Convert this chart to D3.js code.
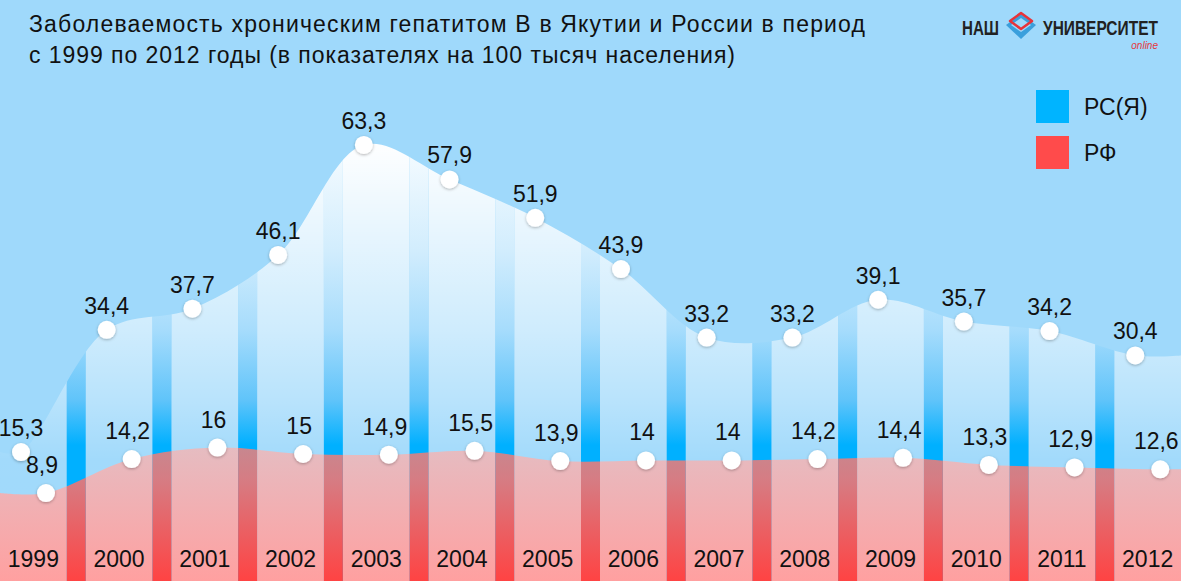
<!DOCTYPE html>
<html>
<head>
<meta charset="utf-8">
<script src="https://cdn.jsdelivr.net/npm/d3@7"></script>
<style>
  html, body { margin: 0; padding: 0; background: #9fd9fb; }
  svg { display: block; }
  text { font-family: "Liberation Sans", Arial, Helvetica, sans-serif; fill: #111; }
</style>
</head>
<body>
<div id="chart"></div>
<script>
var years = ["1999", "2000", "2001", "2002", "2003", "2004", "2005", "2006", "2007", "2008", "2009", "2010", "2011", "2012"]
var rsYa = [15.3, 34.4, 37.7, 46.1, 63.3, 57.9, 51.9, 43.9, 33.2, 33.2, 39.1, 35.7, 34.2, 30.4]
var rf = [8.9, 14.2, 16, 15, 14.9, 15.5, 13.9, 14, 14, 14.2, 14.4, 13.3, 12.9, 12.6]
var seriesNames = ["РС(Я)", "РФ"]
var titleLines = [
    "Заболеваемость хроническим гепатитом В в Якутии и России в период",
    "с 1999 по 2012 годы (в показателях на 100 тысяч населения)"
]
var titleWidths = [836, 706]

function drawChart(container) {
    const width = 1181
    const height = 581

    var svg = d3
        .select(container)
        .append("svg")
            .attr("width", width)
            .attr("height", height)

    var defs = svg.append("defs")

    // vertical gradients, in page coordinates
    function gradient(id, stops) {
        var g = defs.append("linearGradient")
            .attr("id", id)
            .attr("gradientUnits", "userSpaceOnUse")
            .attr("x1", 0).attr("x2", 0)
            .attr("y1", 0).attr("y2", height)
        stops.forEach(function(s) {
            g.append("stop")
                .attr("offset", s[0] / height)
                .attr("stop-color", s[1])
                .attr("stop-opacity", s[2] == null ? 1 : s[2])
        })
    }
    gradient("colBlue", [[150, "#ffffff", 0.97], [330, "#ffffff", 0.5], [400, "#ffffff", 0.27], [460, "#ffffff", 0.03], [581, "#ffffff", 0]])
    gradient("stripeBlue", [[150, "#f4fbff"], [250, "#d2edfd"], [330, "#a6dcfc"], [400, "#60c4fa"], [445, "#00b0ff"], [581, "#00b0ff"]])
    gradient("colPink", [[440, "#e4bec3"], [480, "#ecb5b9"], [581, "#ffa0a0"]])
    gradient("stripePink", [[440, "#c48a92"], [480, "#d67c83"], [581, "#ff4343"]])

    var shadow = defs.append("filter")
        .attr("id", "shadow")
        .attr("x", "-50%").attr("y", "-50%")
        .attr("width", "200%").attr("height", "200%")
    shadow.append("feDropShadow")
        .attr("dx", 0).attr("dy", 1)
        .attr("stdDeviation", 1.5)
        .attr("flood-color", "#000")
        .attr("flood-opacity", 0.3)

    svg.append("rect")
        .attr("width", width)
        .attr("height", height)
        .attr("fill", "#9fd9fb")

    var x = d3.scaleBand()
        .domain(years)
        .range([0, 1181])
        .paddingInner(19 / 85.7)
        .paddingOuter(0)

    var y = d3.scaleLinear()
        .domain([0, 70])
        .range([550, 102])

    // clip paths: year columns and the stripes between them
    var colClip = defs.append("clipPath").attr("id", "cols")
    colClip.selectAll("rect")
        .data(years)
        .join("rect")
            .attr("x", function(d) { return x(d) })
            .attr("y", 0)
            .attr("width", x.bandwidth())
            .attr("height", height)

    var stripeClip = defs.append("clipPath").attr("id", "stripes")
    stripeClip.selectAll("rect")
        .data(years)
        .join("rect")
            .attr("x", function(d) { return x(d) + x.bandwidth() })
            .attr("y", 0)
            .attr("width", x.step() - x.bandwidth())
            .attr("height", height)

    var blueDx = 21
    var redDx = 46

    var bluePts = years.map(function(d, i) { return { x: x(d) + blueDx, v: rsYa[i] } })
    var redPts = years.map(function(d, i) { return { x: x(d) + redDx, v: rf[i] } })

    function extend(pts) {
        return [{ x: 0, v: pts[0].v }].concat(pts, [{ x: width, v: pts[pts.length - 1].v }])
    }

    var area = d3.area()
        .x(function(d) { return d.x })
        .y0(height)
        .y1(function(d) { return y(d.v) })
        .curve(d3.curveCatmullRom.alpha(0.5))

    var layers = [
        { pts: bluePts, clip: "cols", fill: "colBlue" },
        { pts: bluePts, clip: "stripes", fill: "stripeBlue" },
        { pts: redPts, clip: "cols", fill: "colPink" },
        { pts: redPts, clip: "stripes", fill: "stripePink" }
    ]
    svg.selectAll("path.layer")
        .data(layers)
        .join("path")
            .attr("class", "layer")
            .attr("d", function(d) { return area(extend(d.pts)) })
            .attr("clip-path", function(d) { return "url(#" + d.clip + ")" })
            .attr("fill", function(d) { return "url(#" + d.fill + ")" })

    // year labels
    svg.selectAll("text.year")
        .data(years)
        .join("text")
            .attr("class", "year")
            .attr("x", function(d) { return x(d) + x.bandwidth() / 2 })
            .attr("y", 567)
            .attr("text-anchor", "middle")
            .style("font-size", "23px")
            .text(function(d) { return d })

    var fmt = function(v) { return String(v).replace(".", ",") }

    function drawPoints(pts, labelDx, labelDy) {
        var g = svg.append("g")
        g.selectAll("circle")
            .data(pts)
            .join("circle")
                .attr("cx", function(d) { return d.x })
                .attr("cy", function(d) { return y(d.v) })
                .attr("r", 9)
                .attr("fill", "#fff")
                .attr("filter", "url(#shadow)")
        g.selectAll("text")
            .data(pts)
            .join("text")
                .attr("x", function(d) { return d.x + labelDx })
                .attr("y", function(d) { return y(d.v) - labelDy })
                .attr("text-anchor", "middle")
                .style("font-size", "23px")
                .text(function(d) { return fmt(d.v) })
    }
    drawPoints(bluePts, 0, 16)
    drawPoints(redPts, -4, 20)

    // title
    svg.selectAll("text.title")
        .data(titleLines)
        .join("text")
            .attr("class", "title")
            .attr("x", 29)
            .attr("y", function(d, i) { return 32 + i * 31 })
            .attr("textLength", function(d, i) { return titleWidths[i] })
            .attr("lengthAdjust", "spacing")
            .style("font-size", "23px")
            .text(function(d) { return d })

    // legend
    var color = d3.scaleOrdinal()
        .domain(seriesNames)
        .range(["#00b4ff", "#ff4b4b"])
    var size = 33

    svg.selectAll("legendboxes")
        .data(seriesNames)
        .join("rect")
            .attr("x", 1036)
            .attr("y", function(d, i) { return 90 + i * 46 })
            .attr("width", size)
            .attr("height", size)
            .style("fill", function(d) { return color(d) })

    svg.selectAll("legendlabels")
        .data(seriesNames)
        .join("text")
            .attr("x", 1084)
            .attr("y", function(d, i) { return 115 + i * 46 })
            .style("font-size", "23px")
            .text(function(d) { return d })

    // logo: bold words squeezed horizontally to a condensed look
    var logo = svg.append("g")
    function squeezed(txt, x0, w) {
        var g = logo.append("g")
        var t = g.append("text")
            .attr("x", 0)
            .attr("y", 0)
            .style("font-size", "21px")
            .style("font-weight", "bold")
            .style("fill", "#222")
            .text(txt)
        var natural = t.node().getComputedTextLength()
        g.attr("transform", "translate(" + x0 + ",35) scale(" + (w / natural) + ",1)")
    }
    squeezed("НАШ", 962, 37)
    squeezed("УНИВЕРСИТЕТ", 1043, 115)
    logo.append("text")
        .attr("x", 1158)
        .attr("y", 49)
        .attr("text-anchor", "end")
        .style("font-size", "10px")
        .style("font-style", "italic")
        .style("fill", "#e5383b")
        .text("online")
    logo.append("path")
        .attr("d", "M1006,25 L1021,14 L1036,25 L1021,39 Z")
        .attr("fill", "#3a9fdc")
    logo.append("path")
        .attr("d", "M1011,25 L1021,18 L1031,25 L1021,32 Z")
        .attr("fill", "#9fd9fb")
    logo.append("path")
        .attr("d", "M1010,21 L1021,13 L1032,21 L1021,29 Z")
        .attr("fill", "none")
        .attr("stroke", "#e8333a")
        .attr("stroke-width", 2.5)
        .attr("stroke-linejoin", "round")
}

drawChart("#chart")
</script>
</body>
</html>
